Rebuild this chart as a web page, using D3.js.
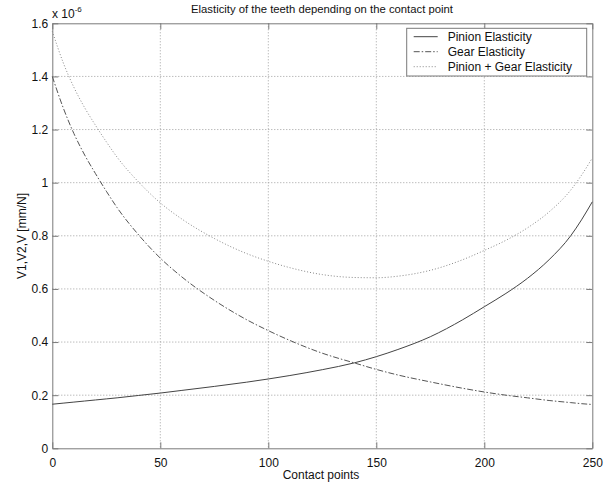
<!DOCTYPE html>
<html>
<head>
<meta charset="utf-8">
<script src="https://cdn.jsdelivr.net/npm/d3@7"></script>
<style>
	body { margin: 0; background: #fff; }
	svg { font-family: Arial, "Liberation Sans", sans-serif; }
</style>
</head>
<body>
<svg width="611" height="486"></svg>
<script>
// contact points (x) and elasticities in units of 1e-6 mm/N
var contactPoints = [0, 5, 10, 15, 20, 25, 30, 40, 50, 60, 75, 90, 100, 110, 125, 140, 150, 160, 175, 190, 200, 210, 220, 230, 240, 245, 250];
var pinion = [0.166, 0.170, 0.174, 0.178, 0.182, 0.186, 0.190, 0.199, 0.208, 0.218, 0.233, 0.249, 0.261, 0.274, 0.296, 0.322, 0.345, 0.372, 0.420, 0.484, 0.533, 0.583, 0.640, 0.710, 0.800, 0.860, 0.928];
var gear = [1.400, 1.283, 1.185, 1.104, 1.034, 0.968, 0.906, 0.803, 0.716, 0.645, 0.557, 0.484, 0.443, 0.406, 0.358, 0.321, 0.297, 0.276, 0.250, 0.226, 0.212, 0.200, 0.190, 0.180, 0.172, 0.168, 0.165];
var pinionGear = [1.570, 1.453, 1.359, 1.282, 1.216, 1.154, 1.096, 1.002, 0.924, 0.863, 0.790, 0.733, 0.704, 0.680, 0.654, 0.643, 0.642, 0.648, 0.670, 0.710, 0.745, 0.783, 0.830, 0.890, 0.972, 1.028, 1.093];

var xTicks = [0, 50, 100, 150, 200, 250];
var yTicks = [0, 0.2, 0.4, 0.6, 0.8, 1, 1.2, 1.4, 1.6];

var seriesNames = ["Pinion Elasticity", "Gear Elasticity", "Pinion + Gear Elasticity"];

var svg = d3.select("svg"),
    margin = {top: 23.3, right: 18.7, bottom: 37.7, left: 52.3},
    width = svg.attr("width") - margin.left - margin.right,
    height = svg.attr("height") - margin.top - margin.bottom;

var x = d3.scaleLinear().domain([0, 250]).range([0, width]),
    y = d3.scaleLinear().domain([0, 1.6]).range([height, 0]);

var g = svg.append("g")
    .attr("transform", "translate(" + margin.left + "," + margin.top + ")");

// grid
g.append("g").selectAll("line").data(xTicks.slice(1, -1))
  .enter().append("line")
    .attr("x1", function(d) { return x(d); })
    .attr("x2", function(d) { return x(d); })
    .attr("y1", 0).attr("y2", height)
    .attr("stroke", "#a0a0a0").attr("stroke-dasharray", "1,2");

g.append("g").selectAll("line").data(yTicks.slice(1, -1))
  .enter().append("line")
    .attr("y1", function(d) { return y(d); })
    .attr("y2", function(d) { return y(d); })
    .attr("x1", 0).attr("x2", width)
    .attr("stroke", "#a0a0a0").attr("stroke-dasharray", "1,2");

// axes, ticks pointing inwards, matlab style
var xAxis = g.append("g")
    .attr("transform", "translate(0," + height + ")")
    .call(d3.axisBottom(x).tickValues(xTicks).tickSizeInner(-6).tickSizeOuter(0).tickPadding(10));
var yAxis = g.append("g")
    .call(d3.axisLeft(y).tickValues(yTicks).tickSizeInner(-6).tickSizeOuter(0).tickPadding(10)
      .tickFormat(function(d) { return d3.format("~g")(d); }));
var xTop = g.append("g")
    .call(d3.axisTop(x).tickValues(xTicks).tickSizeInner(-6).tickSizeOuter(0).tickFormat(""));
var yRight = g.append("g")
    .attr("transform", "translate(" + width + ",0)")
    .call(d3.axisRight(y).tickValues(yTicks).tickSizeInner(-6).tickSizeOuter(0).tickFormat(""));

[xAxis, yAxis, xTop, yRight].forEach(function(a) {
	a.selectAll("path, line").attr("stroke", "#7a7a7a");
	a.selectAll("text").attr("fill", "#111").style("font-size", "12px");
});
yAxis.selectAll("text").attr("dx", "6");

// lines
var line = d3.line()
    .x(function(d) { return x(d[0]); })
    .y(function(d) { return y(d[1]); })
    .curve(d3.curveMonotoneX);

var styles = [
	{data: pinion, dash: null, color: "#444", w: 1},
	{data: gear, dash: "6,2,1.5,2", color: "#555", w: 1},
	{data: pinionGear, dash: "1,2", color: "#888", w: 1}
];

styles.forEach(function(s) {
	g.append("path")
	    .datum(contactPoints.map(function(c, i) { return [c, s.data[i]]; }))
	    .attr("fill", "none")
	    .attr("stroke", s.color)
	    .attr("stroke-width", s.w)
	    .attr("stroke-dasharray", s.dash)
	    .attr("d", line);
});

// legend
var legend = svg.append("g").attr("transform", "translate(406.7,28.3)");
legend.append("rect")
    .attr("width", 180).attr("height", 47.7)
    .attr("fill", "#fff").attr("stroke", "#7a7a7a");
seriesNames.forEach(function(name, i) {
	var cy = 8.4 + i * 15;
	legend.append("line")
	    .attr("x1", 7).attr("x2", 31)
	    .attr("y1", cy).attr("y2", cy)
	    .attr("stroke", styles[i].color)
	    .attr("stroke-dasharray", styles[i].dash);
	legend.append("text")
	    .attr("x", 41).attr("y", cy + 4.3)
	    .style("font-size", "12px").attr("fill", "#111")
	    .text(name);
});

// title and labels
svg.append("text")
    .attr("x", 322).attr("y", 13)
    .attr("text-anchor", "middle")
    .style("font-size", "11.3px").attr("fill", "#111")
    .text("Elasticity of the teeth depending on the contact point");

svg.append("text")
    .attr("x", 321).attr("y", 479)
    .attr("text-anchor", "middle")
    .style("font-size", "12px").attr("fill", "#111")
    .text("Contact points");

svg.append("text")
    .attr("transform", "translate(26,236) rotate(-90)")
    .attr("text-anchor", "middle")
    .style("font-size", "12px").attr("fill", "#111")
    .text("V1,V2,V [mm/N]");

var expo = svg.append("text")
    .attr("x", 52).attr("y", 18)
    .style("font-size", "12px").attr("fill", "#111");
expo.append("tspan").text("x 10");
expo.append("tspan").attr("dy", "-6").style("font-size", "8px").text("-6");
</script>
</body>
</html>
